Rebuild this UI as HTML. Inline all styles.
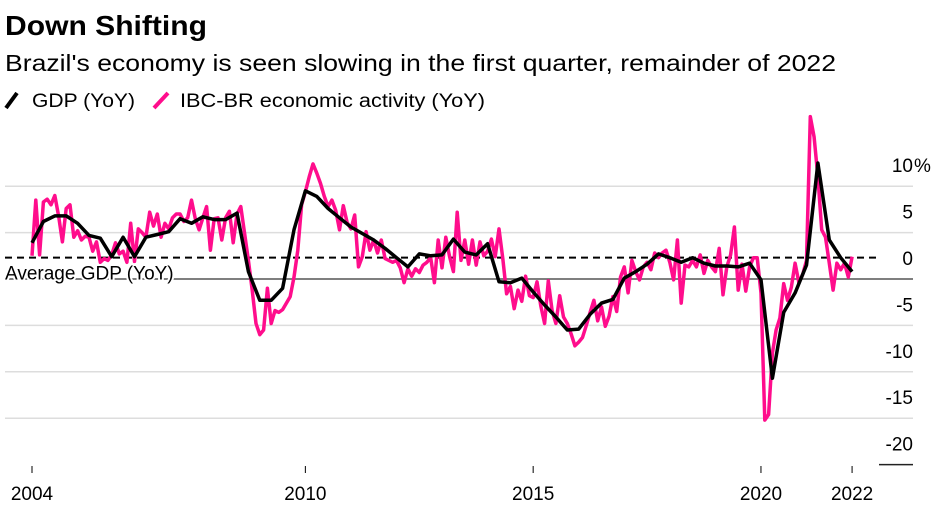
<!DOCTYPE html>
<html><head><meta charset="utf-8"><style>
html,body{margin:0;padding:0;background:#fff;}
svg{display:block;font-family:"Liberation Sans",Arial,sans-serif;}
</style></head><body>
<svg id="chart" width="943" height="512" viewBox="0 0 943 512">
<text x="5" y="35" font-size="28" font-weight="bold" fill="#000" textLength="202" lengthAdjust="spacingAndGlyphs">Down Shifting</text>
<text x="5" y="71" font-size="23" fill="#000" textLength="831" lengthAdjust="spacingAndGlyphs">Brazil's economy is seen slowing in the first quarter, remainder of 2022</text>
<g>
<line x1="6" y1="108" x2="17" y2="93" stroke="#000" stroke-width="4"/>
<text x="32" y="107" font-size="19" textLength="103" lengthAdjust="spacingAndGlyphs">GDP (YoY)</text>
<line x1="154" y1="108" x2="168" y2="93" stroke="#ff0d8c" stroke-width="4"/>
<text x="180" y="107" font-size="19" textLength="305" lengthAdjust="spacingAndGlyphs">IBC-BR economic activity (YoY)</text>
</g>
<g id="grid"></g><g id="series"></g><g id="axes"></g>
</svg>
<script>
const yTicks = [10, 5, 0, -5, -10, -15, -20];
const yTickLabels = ["10%", "5", "0", "-5", "-10", "-15", "-20"];
const xTicks = [2004, 2010, 2015, 2020, 2022];
const xTickLabels = ["2004", "2010", "2015", "2020", "2022"];
const averageGdp = 2.3;
const gdpStartYear = 2004;
const gdpValues = [
3.9,6.2,6.8,6.8, 6.0,4.7,4.4,2.4, 4.5,2.4,4.5,4.8, 5.1,6.5,6.0,6.7,
6.4,6.4,7.1,0.8, -2.3,-2.3,-1.0,5.3, 9.5,8.9,7.6,6.6, 5.6,4.9,4.2,3.3,
2.3,1.3,2.7,2.5, 2.6,4.3,2.9,2.6, 3.8,-0.3,-0.4,0.1, -1.4,-2.8,-4.1,-5.5,
-5.4,-3.8,-2.6,-2.2, 0.1,0.8,1.6,2.7, 2.3,1.8,2.3,1.7, 1.4,1.4,1.3,1.7,
-0.1,-10.7,-3.6,-1.5, 1.5,12.5,4.2,2.3, 0.8];
const ibcStartYear = 2004;
const ibcValues = [
2.5,8.5,2.6,8.3,8.6,8.0,9.0,6.8,4.0,7.6,8.0,4.5,
5.2,4.2,4.6,4.5,3.0,4.0,1.8,2.2,2.0,2.6,3.9,2.7,
3.0,1.8,6.0,1.9,5.4,5.0,4.5,7.2,5.7,7.0,4.5,6.0,
5.4,6.6,7.0,7.0,6.2,6.6,8.5,6.5,5.3,6.6,7.8,3.1,
6.5,6.6,4.2,6.6,7.3,3.9,7.0,7.8,4.9,2.0,-1.2,-4.8,
-6.0,-5.5,-1.0,-4.8,-3.4,-3.6,-3.3,-2.6,-1.9,0.2,3.1,8.0,
9.4,11.0,12.4,11.4,10.3,8.9,7.8,8.5,7.4,5.3,7.9,6.1,
5.4,6.9,1.3,2.4,5.1,3.1,4.2,2.8,4.2,2.2,2.0,1.8,
2.0,1.2,-0.4,1.1,0.3,1.1,0.7,1.5,1.8,2.3,-0.4,4.2,
1.2,4.5,2.4,0.8,7.2,2.0,4.2,1.6,4.2,1.5,4.0,2.5,
3.0,4.3,2.4,5.4,2.2,-1.6,-0.8,-3.2,-1.2,-2.4,0.3,-1.8,
-2.0,-0.3,-2.9,-4.8,-0.2,-3.4,-4.8,-1.8,-4.1,-4.8,-5.9,-7.2,
-6.8,-6.3,-5.0,-3.6,-2.3,-4.5,-3.0,-5.1,-4.0,-1.9,-3.5,0.2,
1.3,-1.5,2.0,0.8,-0.1,1.3,1.8,1.0,2.8,2.3,2.8,3.1,
1.8,-0.1,4.2,-2.6,1.5,1.3,2.0,1.3,2.6,0.6,2.0,1.3,
0.8,3.3,-1.7,1.3,2.6,5.6,-1.2,1.6,-1.3,1.3,2.3,2.3,
-1.5,-15.2,-14.6,-8.0,-5.5,-4.2,-0.5,-2.3,-0.9,1.7,-0.4,0.5,
2.0,17.5,15.3,11.0,5.3,4.5,1.7,-1.2,1.7,1.0,1.7,0.2,
2.4];

const NS = "http://www.w3.org/2000/svg";
const X0 = 32, PX_PER_YEAR = 45.56, Y0 = 279, PX_PER_UNIT = 9.28;
function xScale(t){ return X0 + (t - 2004) * PX_PER_YEAR; }
function yScale(v){ return Y0 - v * PX_PER_UNIT; }
function mk(tag, attrs, parent){ const e = document.createElementNS(NS, tag); for (const k in attrs) e.setAttribute(k, attrs[k]); parent.appendChild(e); return e; }

const grid = document.getElementById('grid');
const axes = document.getElementById('axes');
const series = document.getElementById('series');

yTicks.forEach((v, i) => {
  const y = yScale(v);
  const x1 = v === -20 ? 879 : 5;
  const gl = mk('line', {x1: x1, x2: 913, y1: y, y2: y, stroke: v === 0 ? '#555' : (v === -20 ? '#222' : '#ddd'), 'stroke-width': v === 0 ? 1.6 : 1.5}, grid);
  
  
  const lbl = yTickLabels[i];
  const num = lbl.replace('%', '');
  const t = mk('text', {x: 913, y: y - 14, 'font-size': 19, 'text-anchor': 'end', fill: '#000'}, axes);
  t.textContent = num;
  
  
  if (lbl.indexOf('%') >= 0) {
    const p = mk('text', {x: 914, y: y - 14, 'font-size': 19, fill: '#000'}, axes);
    p.textContent = '%';
    
    
  }
});

xTicks.forEach((yr, i) => {
  const x = xScale(yr);
  const tk = mk('line', {x1: x, x2: x, y1: 466, y2: 473, stroke: '#000', 'stroke-width': 1}, axes);
  
  
  const t = mk('text', {x: x, y: 500, 'font-size': 19, 'text-anchor': 'middle', fill: '#000'}, axes);
  t.textContent = xTickLabels[i];
  
  
});

// average line
const ay = yScale(averageGdp);
const avg = mk('line', {x1: 5, x2: 880, y1: ay, y2: ay, stroke: '#000', 'stroke-width': 2, 'stroke-dasharray': '7,5'}, series);



// IBC series
let d = '';
ibcValues.forEach((v, i) => { d += (i ? 'L' : 'M') + xScale(ibcStartYear + i / 12).toFixed(1) + ',' + yScale(v).toFixed(1); });
const ibc = mk('path', {d: d, fill: 'none', stroke: '#ff0d8c', 'stroke-width': 3.5, 'stroke-linejoin': 'round'}, series);



// GDP series
d = '';
gdpValues.forEach((v, i) => { d += (i ? 'L' : 'M') + xScale(gdpStartYear + i / 4).toFixed(1) + ',' + yScale(v).toFixed(1); });
const gdp = mk('path', {d: d, fill: 'none', stroke: '#000', 'stroke-width': 3.5, 'stroke-linejoin': 'round'}, series);



// average label with halo
const al = mk('text', {x: 5, y: ay + 22, 'font-size': 19, fill: '#000', stroke: '#fff', 'stroke-width': 4, 'paint-order': 'stroke', 'stroke-linejoin': 'round'}, series);
al.textContent = 'Average GDP (YoY)';


</script>
</body></html>
